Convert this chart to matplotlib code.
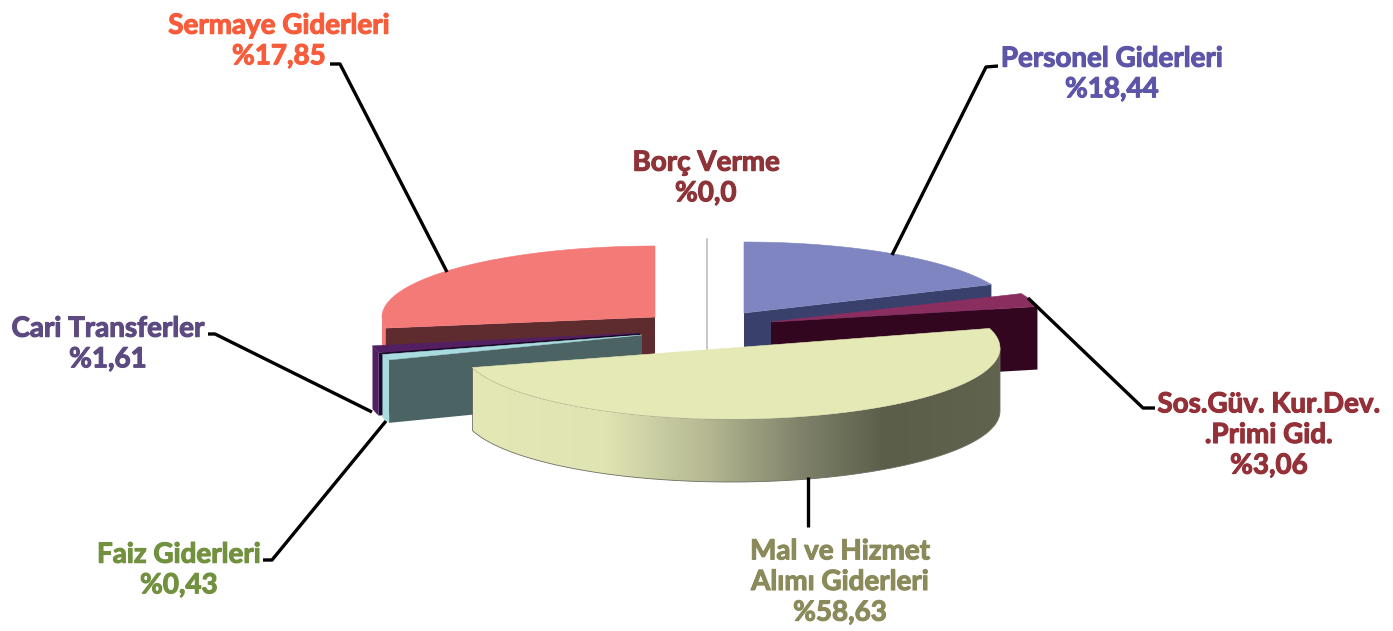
import numpy as np
import matplotlib
matplotlib.use("Agg")
import matplotlib.pyplot as plt
from matplotlib.colors import LinearSegmentedColormap
from matplotlib.patches import Polygon
import matplotlib.patheffects as pe

# slices in drawing order, back to front
categories = ["Borç Verme", "Personel Giderleri", "Sos.Güv. Kur.Dev.\n.Primi Gid.",
              "Sermaye Giderleri", "Cari Transferler", "Faiz Giderleri",
              "Mal ve Hizmet\nAlımı Giderleri"]
percent_labels = ["%0,0", "%18,44", "%3,06", "%17,85", "%1,61", "%0,43", "%58,63"]
# the picture does not draw the printed percentages, these are the shares as seen
drawn_share = [0, 18.44, 3.06, 27.5, 1.55, 1.25, 50]
drawn_start = [0, 0, 66.4, 261, 254, 249.5, 74]

top_colors = ["#bdbdbd", "#7f85c1", "#8a2e60", "#f47a78", "#521f63", "#a8dcdf", "#e5e9b6"]
cut_colors = ["#bdbdbd", "#39406b", "#33061f", "#5e2b2f", "#1a0a2a", "#4b6363", "#5c5f4a"]
text_colors = ["#8e3338", "#5d55a8", "#943038", "#f85c3a", "#5c4a80", "#71913f", "#8b8a5a"]

# layout, in pixels of the 1393x631 picture
apex_x = [707, 744, 771, 655, 640, 642, 731]
apex_y = [310, 313, 322, 317, 333, 335, 348]
radius_x = [270, 270, 273, 273, 272, 270, 269]
label_x = [706, 1112, 1269, 279, 108, 179, 840]
label_y = [178, 74, 435, 41, 344, 570, 582]
leaders = [None,
           [(998, 66), (986, 67), (892, 255)],
           [(1155, 408), (1143, 408), (1028, 298)],
           [(330, 64), (340, 64), (447, 272)],
           [(208, 334), (215, 334), (372, 412)],
           [(263, 560), (272, 560), (386, 421)],
           [(808, 527), (808, 477)]]
ry, depth = 71, 63

plt.rcParams['font.family'] = ['Lato', 'DejaVu Sans']
fig = plt.figure(figsize=(13.93, 6.31), dpi=100)
ax = fig.add_axes([0, 0, 1, 1])


def rim(cx, cy, rx, deg):
    a = np.radians(deg)
    return cx + rx * np.sin(a), cy - ry * np.cos(a)


def arc(cx, cy, rx, d0, d1):
    d = np.linspace(d0, d1, 120)
    return np.column_stack(rim(cx, cy, rx, d))


for i, name in enumerate(categories):
    cx, cy, rx = apex_x[i], apex_y[i], radius_x[i]
    d0 = drawn_start[i]
    d1 = d0 + drawn_share[i] * 3.6

    if drawn_share[i] == 0:
        x, y = rim(cx, cy, rx, d0)
        ax.plot([x, x], [y, cy + depth], color=top_colors[i], lw=1.2, zorder=i + 1)
        continue

    # cut faces
    if 0 < d1 < 180:
        x, y = rim(cx, cy, rx, d1)
        ax.add_patch(Polygon([(cx, cy), (x, y), (x, y + depth), (cx, cy + depth)],
                             fc=cut_colors[i], ec="none", zorder=i + 1))
    if 180 < d0 < 360:
        x, y = rim(cx, cy, rx, d0)
        ax.add_patch(Polygon([(cx, cy), (x, y), (x, y + depth), (cx, cy + depth)],
                             fc=cut_colors[i], ec="none", zorder=i + 1))

    # outer wall, only the part that faces the viewer
    w0, w1 = max(d0, 90), min(d1, 270)
    if w1 > w0:
        pts = arc(cx, cy, rx, w0, w1)
        wall = np.vstack([pts, (pts + [0, depth])[::-1]])
        if name.startswith("Mal"):
            cmap = LinearSegmentedColormap.from_list("wall", [
                (0.0, "#e4e8b5"), (0.25, "#e0e4b3"), (0.45, "#b3b690"),
                (0.62, "#80836a"), (0.78, "#5b5e49"), (1.0, "#60644f")])
            im = ax.imshow(np.linspace(0, 1, 256)[None, :], cmap=cmap, aspect="auto",
                           extent=[473, 1001, 500, 300], zorder=i + 1, vmin=0, vmax=1)
            patch = Polygon(wall, fc="none", ec="#6e6e60", lw=0.6, zorder=i + 1.2)
            ax.add_patch(patch)
            im.set_clip_path(patch)
        else:
            ax.add_patch(Polygon(wall, fc=top_colors[i], ec="none", zorder=i + 1))

    # top surface
    top = np.vstack([[(cx, cy)], arc(cx, cy, rx, d0, d1)])
    ax.add_patch(Polygon(top, fc=top_colors[i], ec=top_colors[i], lw=0.4, zorder=i + 1.5))

for i, name in enumerate(categories):
    if leaders[i] is not None:
        xs, ys = zip(*leaders[i])
        ax.plot(xs, ys, color="black", lw=2.4, zorder=20, solid_capstyle="butt")
    t = ax.text(label_x[i], label_y[i], name + "\n" + percent_labels[i], color=text_colors[i],
                fontsize=20, fontweight="bold", ha="center", va="center",
                linespacing=1.22, zorder=21)
    t.set_path_effects([pe.withStroke(linewidth=0.8, foreground=text_colors[i])])

ax.set_xlim(0, 1393)
ax.set_ylim(631, 0)
ax.axis("off")
fig.savefig("out.png", dpi=100, facecolor="white")
